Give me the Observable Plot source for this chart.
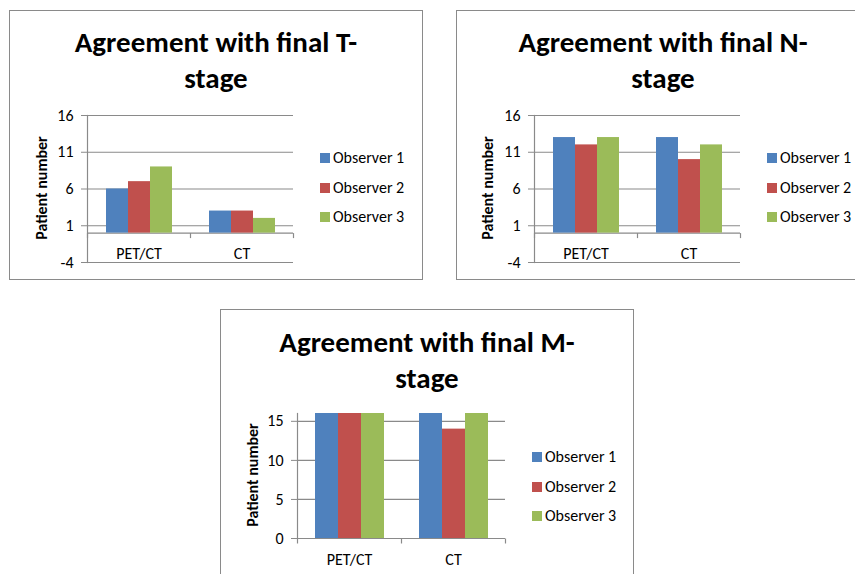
<!DOCTYPE html>
<html>
<head>
<meta charset="utf-8">
<script src="https://cdn.jsdelivr.net/npm/d3@7"></script>
<script src="https://cdn.jsdelivr.net/npm/@observablehq/plot@0.6"></script>
<style>
  html, body { margin: 0; padding: 0; background: #fff; }
  #wrap { position: relative; width: 855px; height: 574px; overflow: hidden; background: #fff;
          font-family: Carlito, Calibri, Lato, sans-serif; color: #000; }
  .panel { position: absolute; border: 1px solid #8a8a8a; box-sizing: border-box; background: #fff; }
  .title { position: absolute; text-align: center; font-weight: bold; font-size: 29px; line-height: 36px; white-space: nowrap; }
  .ylab { position: absolute; font-weight: bold; font-size: 16px; white-space: nowrap;
          transform: translate(-50%, -50%) rotate(-90deg); }
  .legend { position: absolute; font-size: 16px; }
  .legend .item { position: absolute; left: 0; height: 20px; line-height: 20px; white-space: nowrap; }
  .legend .sw { position: absolute; left: 0; top: 5px; width: 10px; height: 10px; }
  .legend .lbl { position: absolute; left: 13px; top: 0; }
  .chart { position: absolute; }
  .chart svg { overflow: visible; }
</style>
</head>
<body>
<div id="wrap"></div>
<script>
// ---- data ----
const categories = ["PET/CT", "CT"];
const observers = ["Observer 1", "Observer 2", "Observer 3"];
const observerColors = ["#4F81BD", "#C0504D", "#9BBB59"];

const tStagePETCT = [6, 7, 9];
const tStageCT = [3, 3, 2];
const nStagePETCT = [13, 12, 13];
const nStageCT = [13, 10, 12];
const mStagePETCT = [16, 16, 16];
const mStageCT = [16, 14, 16];

const tnTicks = [-4, 1, 6, 11, 16];
const mTicks = [0, 5, 10, 15];
const yLabel = "Patient number";

// ---- layout ----
const GRID = "#8a8a8a";
const FONT = "Carlito, Calibri, Lato, sans-serif";

const panels = [
  { title: ["Agreement with final T-", "stage"], petct: tStagePETCT, ct: tStageCT,
    yDomain: [-4, 16], ticks: tnTicks,
    box: {left: 9, top: 10, width: 414, height: 270},
    titleTop: 24,
    svg: {left: 0, top: 100, width: 310, height: 180, mt: 15, mb: 18, ml: 87, mr: 17},
    ylab: {x: 41, y: 188},
    legend: {left: 320, ys: [158, 188, 217]} },
  { title: ["Agreement with final N-", "stage"], petct: nStagePETCT, ct: nStageCT,
    yDomain: [-4, 16], ticks: tnTicks,
    box: {left: 456, top: 10, width: 414, height: 270},
    titleTop: 24,
    svg: {left: 446, top: 100, width: 311, height: 180, mt: 15, mb: 18, ml: 87, mr: 17},
    ylab: {x: 487, y: 188},
    legend: {left: 767, ys: [158, 188, 217]} },
  { title: ["Agreement with final M-", "stage"], petct: mStagePETCT, ct: mStageCT,
    yDomain: [0, 16], ticks: mTicks,
    box: {left: 220, top: 309, width: 414, height: 300},
    titleTop: 324,
    svg: {left: 210, top: 398, width: 312, height: 176, mt: 15, mb: 36, ml: 87, mr: 17},
    ylab: {x: 252, y: 475},
    legend: {left: 532, ys: [457, 487, 516]} }
];

const tickDown = { draw(context) { context.moveTo(0, 0); context.lineTo(0, 5); } };

const wrap = document.getElementById("wrap");

function el(cls, styles, html) {
  const d = document.createElement("div");
  d.className = cls;
  Object.assign(d.style, styles);
  if (html !== undefined) d.innerHTML = html;
  wrap.appendChild(d);
  return d;
}

for (const p of panels) {
  el("panel", {left: p.box.left + "px", top: p.box.top + "px", width: p.box.width + "px", height: p.box.height + "px"});
  const t = el("title", {left: p.box.left + "px", width: p.box.width + "px", top: p.titleTop + "px"});
  t.innerHTML = p.title[0] + "<br>" + p.title[1];

  const data = [];
  observers.forEach((o, i) => {
    data.push({cat: categories[0], obs: o, value: p.petct[i]});
    data.push({cat: categories[1], obs: o, value: p.ct[i]});
  });

  const chart = Plot.plot({
    width: p.svg.width,
    height: p.svg.height,
    marginTop: p.svg.mt, marginBottom: p.svg.mb, marginLeft: p.svg.ml, marginRight: p.svg.mr,
    style: {fontFamily: FONT, fontSize: "16px", background: "transparent", color: "#000", overflow: "visible"},
    fx: {domain: categories, padding: 0, axis: null},
    x: {domain: observers, paddingInner: 0, paddingOuter: 0.74, axis: null},
    y: {domain: p.yDomain, axis: null},
    color: {domain: observers, range: observerColors},
    marks: [
      Plot.gridY({ticks: p.ticks, stroke: GRID, strokeOpacity: 1, strokeWidth: 1.2}),
      Plot.ruleY([0], {stroke: GRID, strokeWidth: 1.2}),
      Plot.frame({anchor: "left", stroke: GRID, strokeWidth: 1.2, facetAnchor: "left"}),
      Plot.dot([0], {y: d => d, frameAnchor: "right", symbol: tickDown, stroke: GRID, fill: "none", strokeWidth: 1.2}),
      Plot.dot([0], {y: d => d, frameAnchor: "left", symbol: tickDown, stroke: GRID, fill: "none", strokeWidth: 1.2, facetAnchor: "left"}),
      Plot.axisY({ticks: p.ticks, tickFormat: d => String(d), tickSize: 6, tickPadding: 8, stroke: GRID, fill: "#000", fontSize: 16, label: null}),
      Plot.barY(data, {fx: "cat", x: "obs", y1: 0, y2: "value", fill: "obs"}),
      Plot.text(categories, {fx: d => d, y: 0, text: d => d, dy: 21, fontSize: 16, fill: "#000"})
    ]
  });
  const holder = el("chart", {left: p.svg.left + "px", top: p.svg.top + "px", width: p.svg.width + "px", height: p.svg.height + "px"});
  holder.appendChild(chart);

  el("ylab", {left: p.ylab.x + "px", top: p.ylab.y + "px"}, yLabel);

  const lg = el("legend", {left: p.legend.left + "px", top: "0px"});
  observers.forEach((o, i) => {
    const it = document.createElement("div");
    it.className = "item";
    it.style.top = (p.legend.ys[i] - 10) + "px";
    it.innerHTML = `<span class="sw" style="background:${observerColors[i]}"></span><span class="lbl">${o}</span>`;
    lg.appendChild(it);
  });
}
</script>
</body>
</html>
